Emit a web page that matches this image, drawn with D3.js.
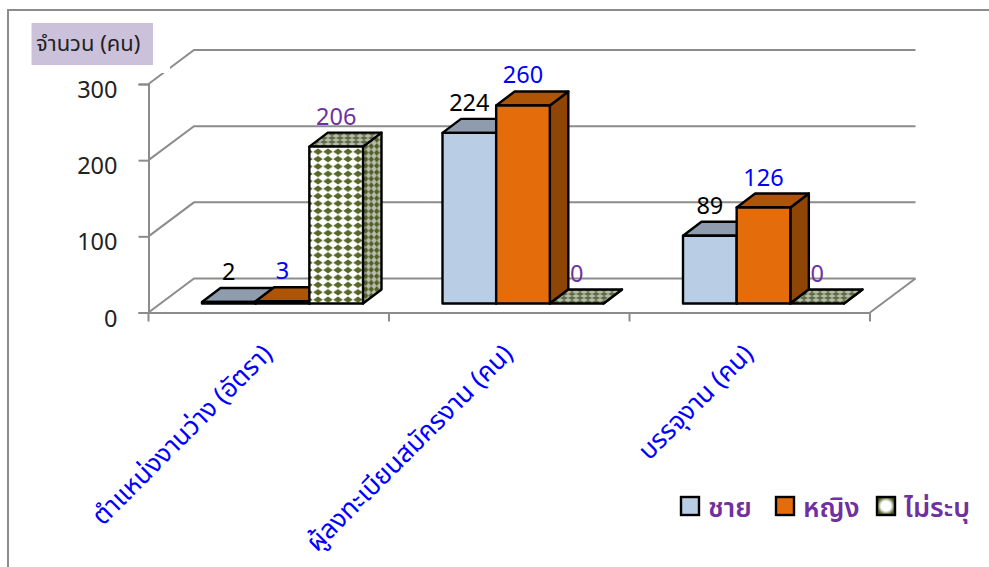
<!DOCTYPE html>
<html>
<head>
<meta charset="utf-8">
<script src="https://cdn.jsdelivr.net/npm/d3@7"></script>
<style>
  html,body{margin:0;padding:0;background:#fff;}
  svg{display:block;}
  text{font-family:"Noto Sans","Noto Sans Thai",sans-serif;}
</style>
</head>
<body>
<svg id="chart" width="989" height="567"></svg>
<script>
const categories = ["ตำแหน่งงานว่าง (อัตรา)", "ผู้ลงทะเบียนสมัครงาน (คน)", "บรรจุงาน (คน)"];
const seriesNames = ["ชาย", "หญิง", "ไม่ระบุ"];
const male = [2, 224, 89];
const female = [3, 260, 126];
const unspecified = [206, 0, 0];
const yTicks = [0, 100, 200, 300];
const yTitle = "จำนวน (คน)";

const seriesValues = [male, female, unspecified];
const labelColors = ["#000", "#0000ff", "#7030a0"];
const colors = [
  {front:"#b9cde5", top:"#8e9cae", side:"#8e9cae"},
  {front:"#e46c0a", top:"#ae5407", side:"#8f4506"},
  {front:"url(#dotFront)", top:"url(#dotTop)", side:"url(#dotSide)"}
];
const grey = "#8c8c8c";

const svg = d3.select("#chart");

// patterns for the third series
const defs = svg.append("defs");
function dots(id, w, h, bg, fg, rx, ry, ox){
  const p = defs.append("pattern").attr("id",id).attr("patternUnits","userSpaceOnUse")
    .attr("width",w).attr("height",h).attr("patternTransform",`translate(${ox},0)`);
  p.append("rect").attr("width",w).attr("height",h).attr("fill",bg);
  p.append("path").attr("fill",fg)
    .attr("d",`M${w/2-rx},${h/2}L${w/2},${h/2-ry}L${w/2+rx},${h/2}L${w/2},${h/2+ry}Z`);
}
dots("dotFront",10,7.4,"#fff","#566828",4.8,3.2,3);
dots("dotTop",8,4,"#b4baa8","#5f6b45",4,2,0);
dots("dotSide",5.5,6.5,"#b9bcae","#4f6024",2.7,3.2,0);
const lg = defs.append("radialGradient").attr("id","dotLegend");
lg.append("stop").attr("offset","55%").attr("stop-color","#fff");
lg.append("stop").attr("offset","100%").attr("stop-color","#4f6024");

const x = d3.scaleBand().domain(categories).range([148.5,870]);
const xInner = d3.scaleBand().domain(seriesNames).range([53.5,214.5]);
const y = d3.scaleLinear().domain([0,300]).range([312.5,84]);

const depth = {dx:45.5, dy:-34};      // floor depth
const bar = {dx:18.5, dy:-14, lift:-9};

// outer frame
svg.append("path").attr("d","M8,567V10H989").attr("fill","none").attr("stroke",grey).attr("stroke-width",2);

// walls
const g = svg.append("g");
const lineStyle = s => s.attr("fill","none").attr("stroke",grey).attr("stroke-width",2);
yTicks.forEach(t=>{
  g.append("path").call(lineStyle)
    .attr("d",`M${x.range()[0]},${y(t)}l${depth.dx},${depth.dy}H${x.range()[1]+depth.dx}`);
});
g.append("path").call(lineStyle)
  .attr("d",`M${x.range()[1]+depth.dx},${y(0)+depth.dy}L${x.range()[1]},${y(0)}`);

// y axis
const yAxis = d3.axisLeft(y).tickValues(yTicks).tickSize(10).tickPadding(21);
const yg = svg.append("g").attr("transform",`translate(${x.range()[0]},0)`).call(yAxis);
yg.selectAll("path,line").attr("stroke",grey).attr("stroke-width",2);
yg.selectAll("text").attr("font-size",23.5).attr("fill","#222").attr("dy","0.58em");

// x axis
const xAxis = d3.axisBottom(x).tickSize(0).tickFormat("");
const xg = svg.append("g").attr("transform",`translate(0,${y(0)})`).call(xAxis);
xg.select("path").attr("stroke",grey).attr("stroke-width",2);
[...categories.map(c=>x(c)), x.range()[1]].forEach(px=>{
  xg.append("line").attr("x1",px).attr("x2",px).attr("y1",0).attr("y2",9).attr("stroke",grey).attr("stroke-width",2);
});
categories.forEach(c=>{
  const px = x(c)+x.bandwidth()/2+5, py = y(0)+43;
  svg.append("text").attr("transform",`translate(${px},${py}) rotate(-45)`)
    .attr("text-anchor","end").attr("font-size",26).attr("fill","#0000ff").text(c);
});

// bars, back series last so the neighbour's side is painted correctly
const bars = svg.append("g").attr("stroke","#000").attr("stroke-width",2.4).attr("stroke-linejoin","round");
categories.forEach((c,ci)=>{
  seriesNames.forEach((s,si)=>{
    const v = seriesValues[si][ci];
    const x0 = x(c)+xInner(s), x1 = x0+xInner.bandwidth();
    const y0 = y(0)+bar.lift, yt = y(v)+bar.lift;
    const col = colors[si];
    bars.append("path").attr("fill",col.side)
      .attr("d",`M${x1},${y0}l${bar.dx},${bar.dy}V${yt+bar.dy}l${-bar.dx},${-bar.dy}Z`);
    bars.append("path").attr("fill",col.top)
      .attr("d",`M${x0},${yt}l${bar.dx},${bar.dy}H${x1+bar.dx}l${-bar.dx},${-bar.dy}Z`);
    bars.append("rect").attr("x",x0).attr("y",yt).attr("width",xInner.bandwidth()).attr("height",y0-yt).attr("fill",col.front);
  });
});

// value labels
categories.forEach((c,ci)=>{
  seriesNames.forEach((s,si)=>{
    const v = seriesValues[si][ci];
    svg.append("text")
      .attr("x",x(c)+xInner(s)+xInner.bandwidth()/2)
      .attr("y",y(v)+bar.lift+bar.dy-8)
      .attr("text-anchor","middle").attr("font-size",23.5)
      .attr("fill",labelColors[si]).text(v);
  });
});

// title box
svg.append("rect").attr("x",31.5).attr("y",23).attr("width",121.5).attr("height",42).attr("fill","#ccc1da");
svg.append("text").attr("x",36).attr("y",51).attr("font-size",22).attr("fill","#222").text(yTitle);
// small break in the top diagonal beside the title
svg.append("rect").attr("x",162).attr("y",66).attr("width",8).attr("height",7).attr("fill","#fff");

// legend
const legendX = d3.scaleOrdinal().domain(seriesNames).range([681,776,877]);
const legendTextX = d3.scaleOrdinal().domain(seriesNames).range([708,803,904]);
seriesNames.forEach((s,i)=>{
  svg.append("rect").attr("x",legendX(s)).attr("y",497).attr("width",18).attr("height",18)
    .attr("fill",i===2 ? "url(#dotLegend)" : colors[i].front).attr("stroke","#000").attr("stroke-width",2.4);
  svg.append("text").attr("x",legendTextX(s)).attr("y",517).attr("font-size",27)
    .attr("font-weight",600).attr("fill","#7030a0").text(s);
});
</script>
</body>
</html>
